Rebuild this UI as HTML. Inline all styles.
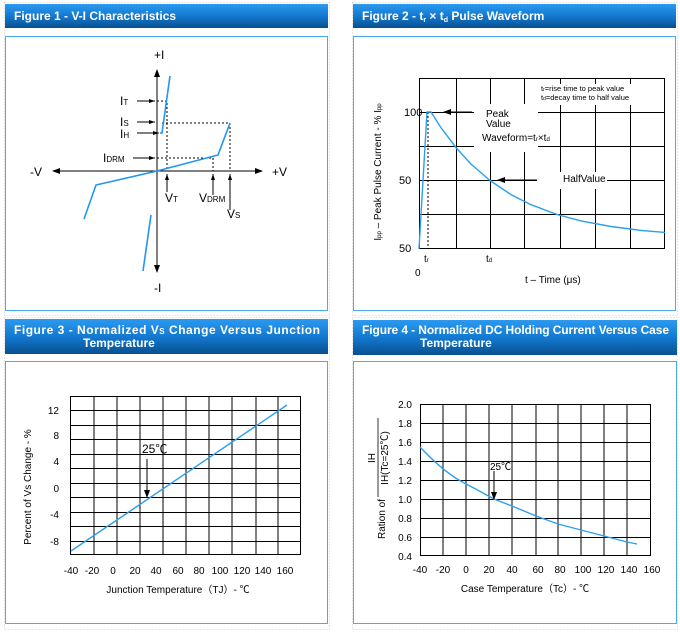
<!DOCTYPE html>
<html><head><meta charset="utf-8"><style>
html,body{margin:0;padding:0;background:#fff;}
svg{display:block;font-family:"Liberation Sans","Noto Sans CJK SC",sans-serif;}
</style></head><body>
<svg width="680" height="632" viewBox="0 0 680 632" xmlns="http://www.w3.org/2000/svg">
<defs>
<linearGradient id="hg" x1="0" y1="0" x2="0" y2="1">
<stop offset="0" stop-color="#2b9af0"/><stop offset="0.5" stop-color="#1479d0"/><stop offset="1" stop-color="#07508f"/>
</linearGradient>
<marker id="ah" markerWidth="8" markerHeight="6" refX="7" refY="3" orient="auto" markerUnits="userSpaceOnUse"><path d="M0,0 L8,3 L0,6 Z" fill="#000"/></marker>
<marker id="ahs" markerWidth="6" markerHeight="4" refX="6" refY="2" orient="auto" markerUnits="userSpaceOnUse"><path d="M0,0 L6,2 L0,4 Z" fill="#000"/></marker>
</defs>
<g fill="none" stroke="#ccc" stroke-dasharray="1,2">
<rect x="4.5" y="2.5" width="325" height="313"/><rect x="352.5" y="2.5" width="325" height="313"/>
<rect x="4.5" y="317.5" width="325" height="312"/><rect x="352.5" y="317.5" width="325" height="312"/>
</g>
<rect x="5" y="4" width="323" height="24" fill="url(#hg)"/>
<rect x="353" y="4" width="323" height="24" fill="url(#hg)"/>
<rect x="5" y="319" width="323" height="35" fill="url(#hg)"/>
<rect x="353" y="320" width="324" height="35" fill="url(#hg)"/>
<g fill="#fff" font-weight="bold" font-size="12">
<text x="14" y="20">Figure 1 - V-I Characteristics</text>
<text x="362" y="20">Figure 2 - t<tspan font-size="7" dy="2">r</tspan><tspan dy="-2"> × t</tspan><tspan font-size="7" dy="2">d</tspan><tspan dy="-2"> Pulse Waveform</tspan></text>
<text x="14" y="334" textLength="306" lengthAdjust="spacing">Figure 3 - Normalized V<tspan font-size="8">S</tspan> Change Versus Junction</text>
<text x="83" y="347">Temperature</text>
<text x="362" y="334" textLength="307" lengthAdjust="spacing">Figure 4 - Normalized DC Holding Current Versus Case</text>
<text x="420" y="347">Temperature</text>
</g>
<g fill="none" stroke="#4aaaf0" stroke-width="1">
<rect x="5.5" y="36.5" width="322" height="274"/>
<rect x="353.5" y="36.5" width="322" height="274"/>
<rect x="5.5" y="361.5" width="322" height="262"/>
<rect x="353.5" y="361.5" width="323" height="262"/>
</g>

<!-- FIG 1 -->
<g stroke="#000" stroke-width="1" fill="none">
<line x1="157" y1="272" x2="157" y2="70" marker-end="url(#ah)"/>
<line x1="157" y1="70" x2="157" y2="272" marker-end="url(#ah)"/>
<line x1="157" y1="171" x2="262" y2="171" marker-end="url(#ah)"/>
<line x1="157" y1="171" x2="53" y2="171" marker-end="url(#ah)"/>
<g stroke-dasharray="2,2">
<path d="M157,101 H167 V171"/><path d="M162,123 H230 V171"/><path d="M157,158 H213 V171"/>
</g>
<line x1="137" y1="101" x2="155" y2="101" marker-end="url(#ahs)"/>
<line x1="137" y1="122" x2="155" y2="122" marker-end="url(#ahs)"/>
<line x1="137" y1="133" x2="159" y2="133" marker-end="url(#ahs)"/>
<line x1="133" y1="158" x2="155" y2="158" marker-end="url(#ahs)"/>
<line x1="167" y1="192" x2="167" y2="174" marker-end="url(#ahs)"/>
<line x1="213" y1="195" x2="213" y2="174" marker-end="url(#ahs)"/>
<line x1="230" y1="210" x2="230" y2="174" marker-end="url(#ahs)"/>
</g>
<g stroke="#2196f3" stroke-width="1.6" fill="none">
<path d="M160,133 H162 L170,76"/>
<path d="M84,219 L96,185 L157,171 L218,155 L230,123"/>
<path d="M143,271 L151,215"/>
</g>
<g font-size="12" fill="#000">
<text x="154" y="59">+I</text><text x="154" y="292">-I</text>
<text x="30" y="176">-V</text><text x="272" y="176">+V</text>
<text x="120" y="105">I<tspan font-size="8">T</tspan></text>
<text x="120" y="126">I<tspan font-size="8">S</tspan></text>
<text x="120" y="138">I<tspan font-size="8">H</tspan></text>
<text x="103" y="162">I<tspan font-size="8">DRM</tspan></text>
<text x="165" y="202">V<tspan font-size="8">T</tspan></text>
<text x="199" y="202">V<tspan font-size="8">DRM</tspan></text>
<text x="227" y="218">V<tspan font-size="8">S</tspan></text>
</g>

<!-- FIG 2 -->
<g stroke="#000" stroke-width="1" fill="none">
<rect x="419.5" y="78.5" width="245" height="170"/>
<path d="M456.5,78 V249 M490.5,78 V249 M524.5,78 V249 M560.5,78 V249 M595.5,78 V249 M630.5,78 V249"/>
<path d="M419,112.5 H665 M419,146.5 H665 M419,180.5 H665 M419,214.5 H665"/>
</g>
<g fill="#fff">
<rect x="536" y="84" width="108" height="21"/>
<rect x="474" y="104" width="64" height="48"/>
<rect x="537" y="172" width="70" height="17"/>
</g>
<line x1="428" y1="112" x2="428" y2="249" stroke="#000" stroke-dasharray="2,2"/>
<line x1="472" y1="112" x2="444" y2="112" stroke="#000" marker-end="url(#ah)"/>
<line x1="537" y1="180" x2="498" y2="180" stroke="#000" marker-end="url(#ah)"/>
<polyline points="419,249 427,112 431,112 441,127.7 456,147.6 471,164.1 490,180.5 511,194.6 531,204.7 557,214.5 581,220.9 611,226.5 641,230.4 665,232.4" stroke="#2aa0f0" stroke-width="1.4" fill="none" stroke-linejoin="round"/>
<g font-size="10" fill="#000">
<text x="404" y="116" font-size="11">100</text>
<text x="399" y="184" font-size="11">50</text>
<text x="399" y="252" font-size="11">50</text>
<text x="486" y="117">Peak</text><text x="486" y="127">Value</text>
<text x="482" y="141">Waveform=t<tspan font-size="6">r</tspan>×t<tspan font-size="6">d</tspan></text>
<text x="563" y="182">HalfValue</text>
<text x="541" y="91" font-size="7.5">t<tspan font-size="5">r</tspan>=rise time to peak value</text>
<text x="541" y="100" font-size="7.5">t<tspan font-size="5">d</tspan>=decay time to half value</text>
<text x="424" y="262">t<tspan font-size="6">r</tspan></text>
<text x="486" y="262">t<tspan font-size="6">d</tspan></text>
<text x="415" y="276">0</text>
<text x="525" y="283">t – Time (μs)</text>
<text transform="translate(381,172) rotate(-90)" text-anchor="middle">I<tspan font-size="6">pp</tspan> – Peak Pulse Current - % I<tspan font-size="6">pp</tspan></text>
</g>

<!-- FIG 3 -->
<g stroke="#000" stroke-width="1" fill="none">
<rect x="70.5" y="396.5" width="230" height="158"/>
<path d="M94,396V555 M117,396V555 M140,396V555 M163,396V555 M186,396V555 M209,396V555 M232,396V555 M256,396V555 M278,396V555"/>
<path d="M70,410.5H301 M70,425.5H301 M70,439.5H301 M70,454.5H301 M70,468.5H301 M70,483.5H301 M70,497.5H301 M70,512.5H301 M70,526.5H301 M70,541.5H301"/>
</g>
<line x1="71" y1="551" x2="287" y2="405" stroke="#2aa0f0" stroke-width="1.4"/>
<line x1="147" y1="459" x2="147" y2="497" stroke="#000" marker-end="url(#ah)"/>
<g font-size="10" fill="#000">
<text x="142" y="453" font-size="12">25℃</text>
<g text-anchor="end"><text x="59" y="414">12</text><text x="59" y="439">8</text><text x="59" y="465">4</text><text x="59" y="492">0</text><text x="59" y="518">-4</text><text x="59" y="545">-8</text></g>
<g text-anchor="middle"><text x="71" y="574">-40</text><text x="92" y="574">-20</text><text x="113" y="574">0</text><text x="135" y="574">20</text><text x="156" y="574">40</text><text x="178" y="574">60</text><text x="199" y="574">80</text><text x="220" y="574">100</text><text x="242" y="574">120</text><text x="263" y="574">140</text><text x="285" y="574">160</text></g>
<text x="178" y="593" text-anchor="middle">Junction Temperature（TJ）- ℃</text>
<text transform="translate(31,487) rotate(-90)" text-anchor="middle">Percent of Vs Change - %</text>
</g>

<!-- FIG 4 -->
<g stroke="#000" stroke-width="1" fill="none">
<rect x="420.5" y="404.5" width="230" height="151"/>
<path d="M443,404V556 M466,404V556 M489,404V556 M512,404V556 M536,404V556 M558,404V556 M581,404V556 M604,404V556 M627,404V556"/>
<path d="M420,423.5H651 M420,442.5H651 M420,461.5H651 M420,480.5H651 M420,499.5H651 M420,518.5H651 M420,537.5H651"/>
</g>
<path d="M420,447 C436,464 452,477 466,484 C480,491 488,496 494,499 L512,506 L536,516 L558,524 L581,530 L604,536 L627,542 L637,544" stroke="#2aa0f0" stroke-width="1.4" fill="none"/>
<line x1="494" y1="471" x2="494" y2="499" stroke="#000" marker-end="url(#ah)"/>
<g font-size="10" fill="#000">
<text x="490" y="470">25℃</text>
<g text-anchor="end"><text x="412" y="408">2.0</text><text x="412" y="427">1.8</text><text x="412" y="446">1.6</text><text x="412" y="465">1.4</text><text x="412" y="484">1.2</text><text x="412" y="503">1.0</text><text x="412" y="522">0.8</text><text x="412" y="541">0.6</text><text x="412" y="560">0.4</text></g>
<g text-anchor="middle"><text x="420" y="573">-40</text><text x="443" y="573">-20</text><text x="466" y="573">0</text><text x="489" y="573">20</text><text x="512" y="573">40</text><text x="538" y="573">60</text><text x="560" y="573">80</text><text x="583" y="573">100</text><text x="606" y="573">120</text><text x="629" y="573">140</text><text x="652" y="573">160</text></g>
<text x="525" y="592" text-anchor="middle">Case Temperature（Tc）- ℃</text>
<text transform="translate(385,519) rotate(-90)" text-anchor="middle">Ration of</text>
<text transform="translate(375,458) rotate(-90)" text-anchor="middle">IH</text>
<line x1="378" y1="418" x2="378" y2="497" stroke="#000" stroke-width="0.8"/>
<text transform="translate(388,458) rotate(-90)" text-anchor="middle">IH(Tc=25℃)</text>
</g>
</svg>
</body></html>
